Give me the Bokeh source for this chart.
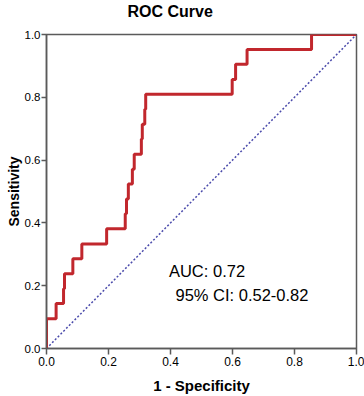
from bokeh.plotting import figure
from bokeh.models import Range1d, FixedTicker, PrintfTickFormatter, Title
from bokeh.core.properties import value
from bokeh.embed import file_html
from bokeh.resources import INLINE

# ROC curve data
fpr = [0.0, 0.0, 0.031, 0.055, 0.058, 0.085, 0.114, 0.194, 0.254, 0.258, 0.264,
       0.277, 0.283, 0.306, 0.309, 0.317, 0.320, 0.599, 0.610, 0.647, 0.855, 1.0]
tpr = [0.0, 0.095, 0.143, 0.190, 0.238, 0.286, 0.333, 0.381, 0.429, 0.476, 0.524,
       0.571, 0.619, 0.667, 0.714, 0.762, 0.810, 0.857, 0.905, 0.952, 1.0, 1.0]
ref_x = [0.0, 1.0]
ref_y = [0.0, 1.0]
ticks = [0.0, 0.2, 0.4, 0.6, 0.8, 1.0]
auc_text = "AUC: 0.72"
ci_text = "95% CI: 0.52-0.82"
title_text = "ROC Curve"
x_label = "1 - Specificity"
y_label = "Sensitivity"

FONT = "Liberation Sans"
AX = "#5a5a5a"

p = figure(frame_width=310, frame_height=314, output_backend="svg", toolbar_location=None,
           x_range=Range1d(0, 1), y_range=Range1d(0, 1), title=None,
           min_border_left=46, min_border_right=8, min_border_top=32, min_border_bottom=48)
# spacer panel between the frame and the title (nearest the frame)
p.add_layout(Title(text=" ", text_font_size="1px", standoff=12), "above")
p.add_layout(Title(text=title_text, align="left", offset=81, text_font=FONT,
                   text_font_size="16px", text_font_style="bold", text_color="black",
                   vertical_align="bottom", standoff=0), "above")
p.grid.visible = False
p.outline_line_color = AX
p.outline_line_width = 1.5
p.background_fill_color = "white"
p.border_fill_color = "white"

for ax in (p.xaxis[0], p.yaxis[0]):
    ax.ticker = FixedTicker(ticks=ticks)
    ax.formatter = PrintfTickFormatter(format="%.1f")
    ax.axis_line_color = AX
    ax.axis_line_width = 1.5
    ax.major_tick_line_color = AX
    ax.major_tick_line_width = 1.5
    ax.major_tick_in = 0
    ax.major_tick_out = 6
    ax.minor_tick_line_color = None
    ax.major_label_text_font = FONT
    ax.major_label_text_font_size = "12px"
    ax.major_label_text_color = "black"
    ax.major_label_standoff = 2
    ax.axis_label_text_font = FONT
    ax.axis_label_text_font_size = "15px"
    ax.axis_label_text_font_style = "bold"
    ax.axis_label_text_color = "black"

p.xaxis[0].axis_label = x_label
p.xaxis[0].axis_label_standoff = 8
p.yaxis[0].axis_label = y_label
p.yaxis[0].axis_label_text_font_size = "14px"
p.yaxis[0].major_tick_out = 5
p.yaxis[0].major_label_text_font_size = "11.5px"
p.yaxis[0].major_label_standoff = 1
p.yaxis[0].axis_label_standoff = 0

p.line(ref_x, ref_y, line_color="#4b4bab", line_width=1.5, line_dash="2 2")
p.step(fpr, tpr, mode="after", line_color="#c1272d", line_width=3)

p.text(x=[0.395], y=[0.247], text=[auc_text], text_font=value(FONT),
       text_font_size="16.5px", text_color="black", text_baseline="alphabetic")
p.text(x=[0.416], y=[0.171], text=[ci_text], text_font=value(FONT),
       text_font_size="16.5px", text_color="black", text_baseline="alphabetic")

open("out.html", "w").write(file_html(p, INLINE))
